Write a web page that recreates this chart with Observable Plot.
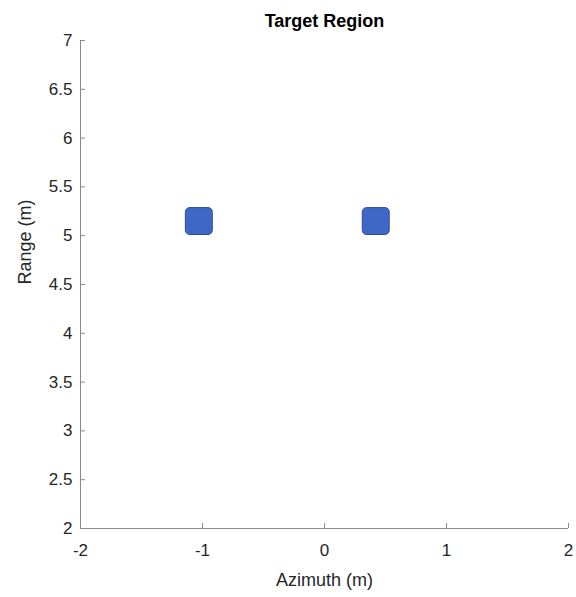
<!DOCTYPE html>
<html>
<head>
<meta charset="utf-8">
<script src="https://cdn.jsdelivr.net/npm/d3@7"></script>
<script src="https://cdn.jsdelivr.net/npm/@observablehq/plot@0.6"></script>
<style>
  html, body { margin: 0; padding: 0; background: #fff; }
  #chart svg { display: block; }
</style>
</head>
<body>
<div id="chart"></div>
<script>
const titleText = "Target Region";
const targetAzimuth = [-1.03, 0.42];
const targetRange = [5.15, 5.15];
const xTicks = [-2, -1, 0, 1, 2];
const yTicks = [2, 2.5, 3, 3.5, 4, 4.5, 5, 5.5, 6, 6.5, 7];

const targets = targetAzimuth.map((x, i) => ({x, y: targetRange[i]}));

const roundedSquare = {
  draw(context, size) {
    const s = Math.sqrt(size);
    const h = s / 2;
    const r = s * 0.16;
    context.moveTo(-h + r, -h);
    context.lineTo(h - r, -h);
    context.arcTo(h, -h, h, -h + r, r);
    context.lineTo(h, h - r);
    context.arcTo(h, h, h - r, h, r);
    context.lineTo(-h + r, h);
    context.arcTo(-h, h, -h, h - r, r);
    context.lineTo(-h, -h + r);
    context.arcTo(-h, -h, -h + r, -h, r);
    context.closePath();
  }
};

const fmt = d => String(d);

const chart = Plot.plot({
  width: 576,
  height: 597,
  marginTop: 40,
  marginBottom: 69,
  marginLeft: 80,
  marginRight: 8,
  style: {fontFamily: "'Liberation Sans', Arial, sans-serif", fontSize: "17px", color: "#262626", background: "#fff"},
  x: {domain: [-2, 2]},
  y: {domain: [2, 7]},
  marks: [
    Plot.ruleX([-2], {stroke: "#8a8a8a", strokeWidth: 1}),
    Plot.ruleY([2], {stroke: "#8a8a8a", strokeWidth: 1}),
    Plot.axisX({ticks: xTicks, tickFormat: fmt, tickSize: -5, tickPadding: 20, stroke: "#8a8a8a", fill: "#262626", fontSize: 17, label: null}),
    Plot.axisY({ticks: yTicks, tickFormat: fmt, tickSize: -5, tickPadding: 13, stroke: "#8a8a8a", fill: "#262626", fontSize: 17, label: null}),
    Plot.text([titleText], {frameAnchor: "top", dy: -14, fontWeight: "bold", fontSize: 18, fill: "#000", lineAnchor: "bottom"}),
    Plot.text(["Azimuth (m)"], {frameAnchor: "bottom", dy: 57, fontSize: 18, fill: "#262626"}),
    Plot.text(["Range (m)"], {frameAnchor: "left", dx: -55, rotate: -90, fontSize: 18, fill: "#262626"}),
    Plot.dot(targets, {x: "x", y: "y", symbol: roundedSquare, r: 15.2, fill: "#3f68c6", stroke: "#2b4c9e", strokeWidth: 1})
  ]
});
document.getElementById("chart").appendChild(chart);
</script>
</body>
</html>
